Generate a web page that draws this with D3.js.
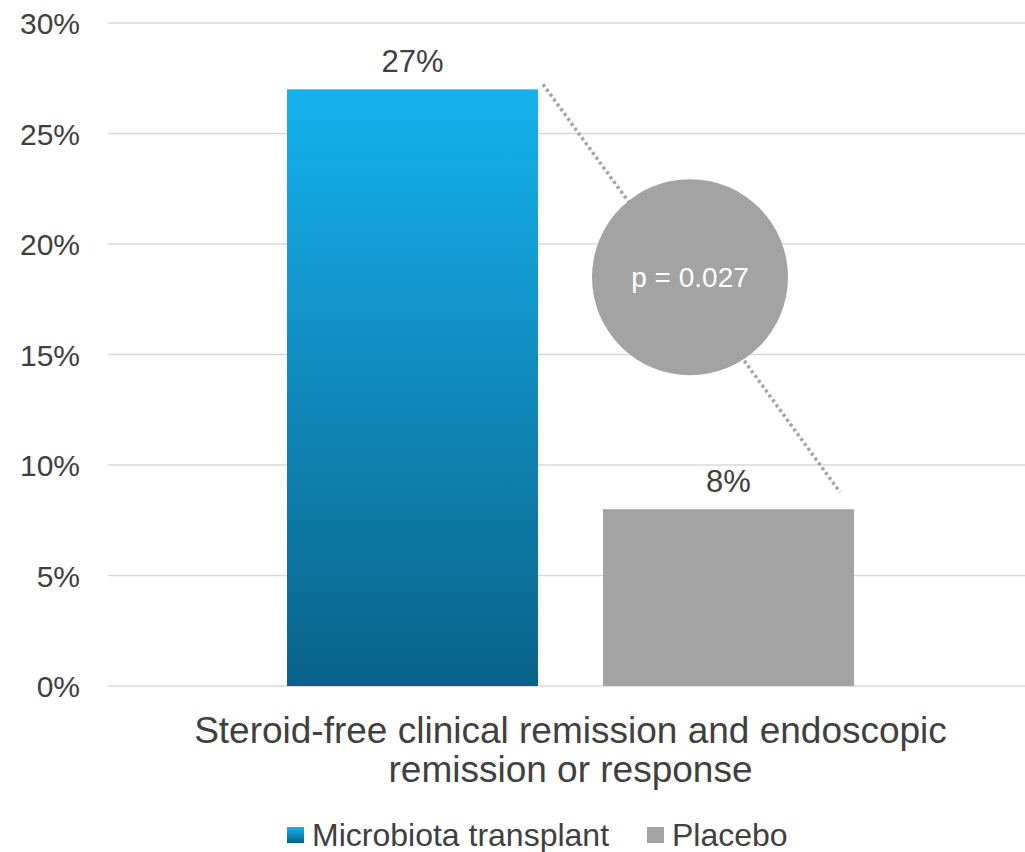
<!DOCTYPE html>
<html><head><meta charset="utf-8">
<script src="https://cdn.jsdelivr.net/npm/d3@7"></script>
<style>body{margin:0;background:#fff}svg{display:block;font-family:"Liberation Sans",Arial,sans-serif}</style>
</head><body><svg id="c" width="1025" height="852"></svg>
<script>
const categories = ["Steroid-free clinical remission and endoscopic remission or response"];
const categoryLines = ["Steroid-free clinical remission and endoscopic", "remission or response"];
const seriesNames = ["Microbiota transplant", "Placebo"];
const seriesValues = [0.27, 0.08];
const yTicks = [0, 0.05, 0.10, 0.15, 0.20, 0.25, 0.30];
const pLabel = "p = 0.027";

(function(){
const svg = d3.select("#c");
const defs = svg.append("defs");
const g1 = defs.append("linearGradient").attr("id","blueGrad").attr("x1",0).attr("y1",0).attr("x2",0).attr("y2",1);
g1.append("stop").attr("offset","0%").attr("stop-color","#16b2ee");
g1.append("stop").attr("offset","100%").attr("stop-color","#0a6289");
const colors = ["url(#blueGrad)", "#a3a3a3"];

const pLeft = 108, pRight = 1025, pTop = 23, pBottom = 686;
const y = d3.scaleLinear().domain([0, 0.30]).range([pBottom, pTop]);
const x0 = d3.scaleBand().domain(categories).range([287, 854]);
const x1 = d3.scaleBand().domain(seriesNames).range([0, x0.bandwidth()]).paddingInner(0.2057);

// grid
svg.append("g").selectAll("line").data(yTicks).join("line")
  .attr("x1", pLeft).attr("x2", pRight)
  .attr("y1", d => y(d)).attr("y2", d => y(d))
  .attr("stroke", "#d9d9d9").attr("stroke-width", 1.5);

// y axis labels
const yAxis = d3.axisLeft(y).tickValues(yTicks).tickFormat(d3.format(".0%")).tickSize(0).tickPadding(0);
const ya = svg.append("g").attr("transform", "translate(80,0)").call(yAxis);
ya.select(".domain").remove();
ya.selectAll("text").attr("font-size", 30).attr("fill", "#404040")
  .attr("font-family", "Liberation Sans, Arial, sans-serif").attr("dy", "0.36em");

// bars
const cat = categories[0];
svg.append("g").selectAll("rect").data(seriesValues).join("rect")
  .attr("x", (d,i) => x0(cat) + x1(seriesNames[i]))
  .attr("width", x1.bandwidth())
  .attr("y", d => y(d))
  .attr("height", d => y(0) - y(d))
  .attr("fill", (d,i) => colors[i]);

// value labels
svg.append("g").selectAll("text").data(seriesValues).join("text")
  .attr("x", (d,i) => x0(cat) + x1(seriesNames[i]) + x1.bandwidth()/2)
  .attr("y", d => y(d) - 17)
  .attr("text-anchor", "middle")
  .attr("font-size", 31).attr("fill", "#404040")
  .text(d => d3.format(".0%")(d));

// dotted connector
const bx = x0(cat) + x1(seriesNames[0]) + x1.bandwidth();
const px = x0(cat) + x1(seriesNames[1]) + x1.bandwidth();
svg.append("line")
  .attr("x1", bx + 5).attr("y1", y(seriesValues[0]) - 5)
  .attr("x2", px - 14).attr("y2", y(seriesValues[1]) - 17)
  .attr("stroke", "#a3a3a3").attr("stroke-width", 3.5).attr("stroke-dasharray", "3,3");

// p-value circle
const cx = 690, cy = y(0.185);
svg.append("circle").attr("cx", cx).attr("cy", cy).attr("r", 98).attr("fill", "#a3a3a3");
svg.append("text").attr("x", cx).attr("y", cy + 10).attr("text-anchor", "middle")
  .attr("font-size", 28).attr("fill", "#ffffff").text(pLabel);

// category label
const cl = svg.append("text").attr("text-anchor", "middle").attr("font-size", 37).attr("fill", "#404040");
categoryLines.forEach((t, i) => {
  cl.append("tspan").attr("x", x0(cat) + x0.bandwidth()/2).attr("y", 743 + i*39).text(t);
});

// legend
const legendX = [287, 647];
const lg = svg.append("g");
seriesNames.forEach((n, i) => {
  lg.append("rect").attr("x", legendX[i]).attr("y", 827).attr("width", 17).attr("height", 16).attr("fill", colors[i]);
  lg.append("text").attr("x", legendX[i] + 25).attr("y", 846).attr("font-size", 32).attr("fill", "#404040").text(n);
});
})();
</script></body></html>
